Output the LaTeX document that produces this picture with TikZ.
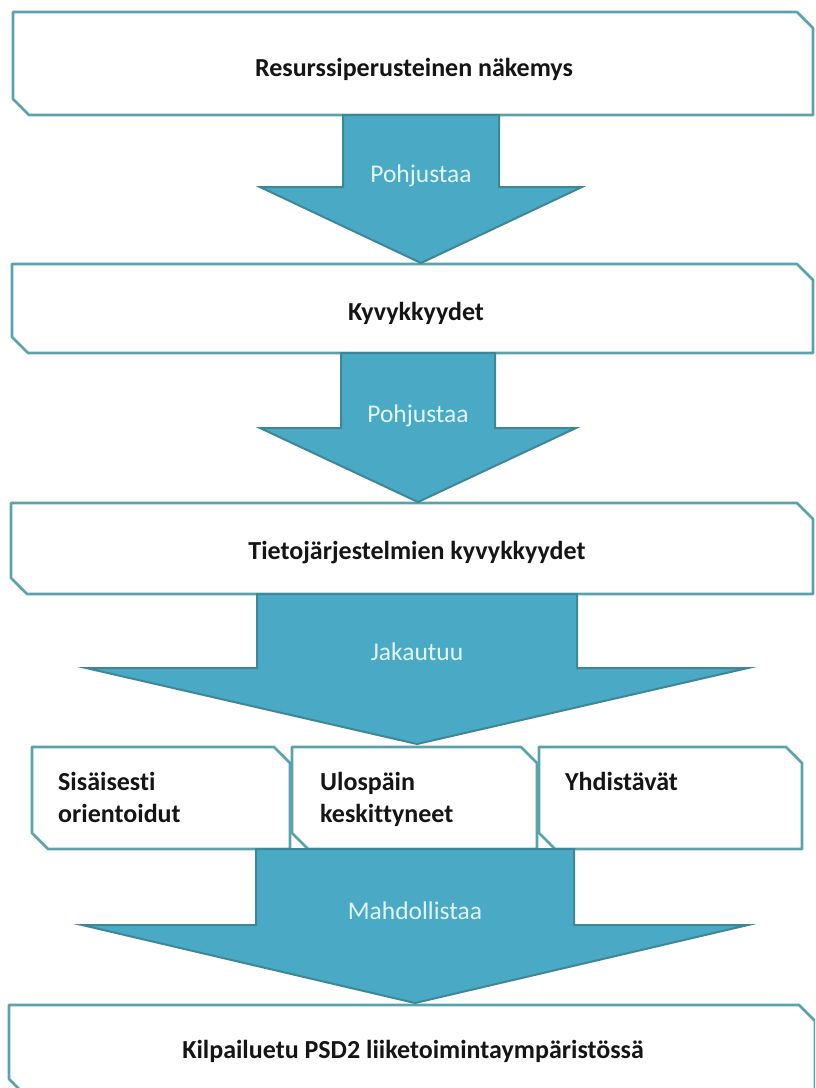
\documentclass[tikz,border=0pt]{standalone}
\usepackage{fontspec}
\setmainfont{Carlito}[Ligatures=NoCommon]
\definecolor{boxline}{HTML}{5AA2AC}
\definecolor{arrowfill}{HTML}{4AAAC5}
\definecolor{arrowline}{HTML}{3D8797}
\definecolor{arrowtext}{HTML}{E2F6FA}
\definecolor{textdark}{HTML}{151515}
\newcommand\cutbox[5]{\draw[boxshape] (#1,#2) -- ({#3-#5},#2) -- (#3,{#2+#5}) -- (#3,#4) -- ({#1+#5},#4) -- (#1,{#4-#5}) -- cycle;}
\newcommand\blockarrow[6]{\draw[arrowshape] ({#1-#5},#2) -- ({#1+#5},#2) -- ({#1+#5},#3) -- ({#1+#6},#3) -- (#1,#4) -- ({#1-#6},#3) -- ({#1-#5},#3) -- cycle;}
\begin{document}
\begin{tikzpicture}[x=1pt,y=-1pt,
  boxshape/.style={draw=boxline, line width=2.6pt, fill=white, line join=round},
  arrowshape/.style={draw=arrowline, line width=2pt, fill=arrowfill, line join=miter},
  boxtext/.style={font=\bfseries\fontsize{26}{32}\selectfont, text=textdark, inner sep=0pt, anchor=base},
  smalltext/.style={boxtext, anchor=base west, align=left},
  arrowlabel/.style={font=\fontsize{25.5}{30}\selectfont, text=arrowtext, inner sep=0pt, anchor=base}
]
\useasboundingbox (0,0) rectangle (815,1088);
\clip (0,0) rectangle (815,1088);
\fill[white] (0,0) rectangle (815,1088);

% main boxes
\cutbox{13}{12}{813}{115}{16}
\cutbox{12}{264}{813}{353}{16}
\cutbox{11}{503}{813}{594}{16}
% small boxes
\cutbox{32}{747}{290}{849}{16}
\cutbox{292}{747}{537}{849}{16}
\cutbox{539}{747}{802}{849}{16}
% last box
\cutbox{9}{1005}{815}{1095}{16}

% block arrows
\blockarrow{421}{115}{187}{263}{78}{161}
\blockarrow{418}{353}{428}{502}{77}{158}
\blockarrow{417}{594}{668}{744}{160}{331}
\blockarrow{415}{849}{925}{1003}{159}{333}

% texts
\node[boxtext] (t1) at (414,76) {Resurssiperusteinen näkemys};
\node[boxtext] (t2) at (416,320) {Kyvykkyydet};
\node[boxtext] (t3) at (417,559) {Tietojärjestelmien kyvykkyydet};
\node[smalltext] (ta) at (58,822) {Sisäisesti\\orientoidut};
\node[smalltext] (tb) at (320,822) {Ulospäin\\keskittyneet};
\node[smalltext] (tc) at (565,790) {Yhdistävät};
\node[boxtext] (t4) at (413,1058) {Kilpailuetu PSD2 liiketoimintaympäristössä};

\node[arrowlabel] (l1) at (421,182) {Pohjustaa};
\node[arrowlabel] (l2) at (418,422) {Pohjustaa};
\node[arrowlabel] (l3) at (417,660) {Jakautuu};
\node[arrowlabel] (l4) at (415,919) {Mahdollistaa};
\end{tikzpicture}
\end{document}
